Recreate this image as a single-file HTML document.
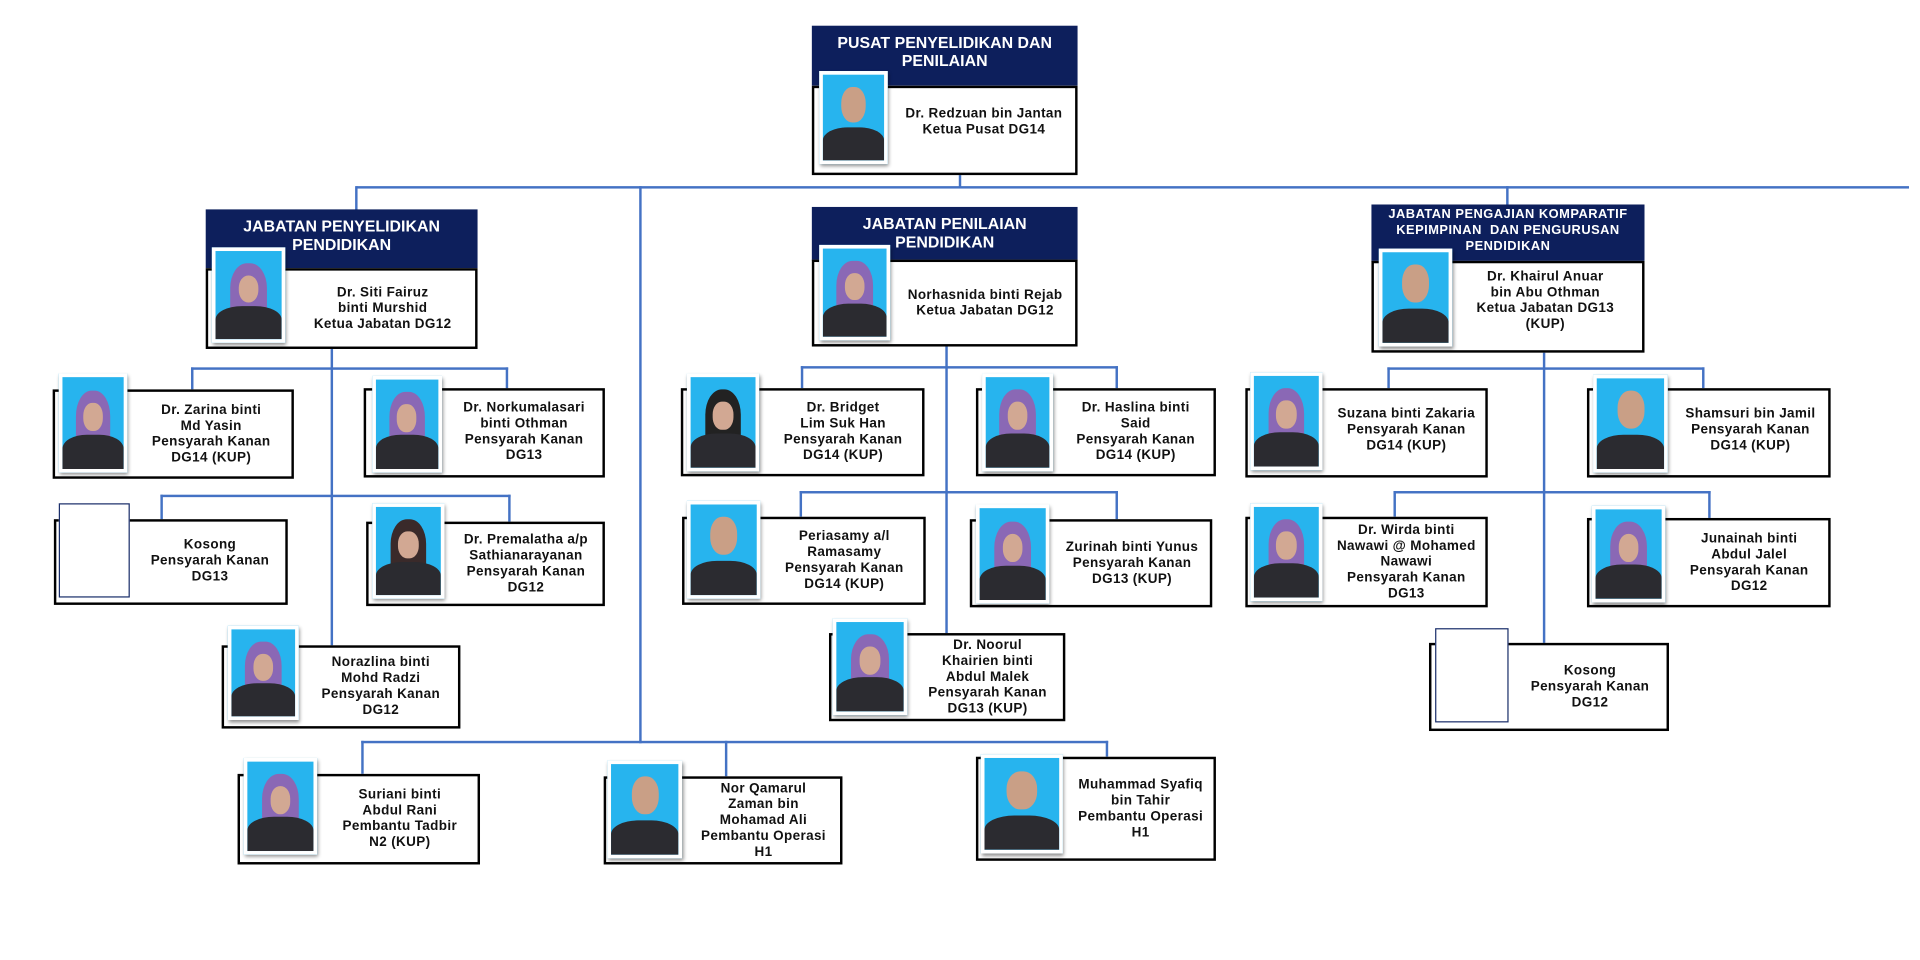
<!DOCTYPE html>
<html><head><meta charset="utf-8"><style>
html,body{margin:0;padding:0;background:#fff;width:1920px;height:960px;overflow:hidden}
#w{position:absolute;left:0;top:0;width:1568px;height:784px;transform:scale(1.2245);transform-origin:0 0;font-family:"Liberation Sans",Arial,sans-serif}
.l{position:absolute;background:#4472c4}
.h{position:absolute;background:#0d1f5c;color:#fff;font-weight:bold;text-align:center;font-size:13px;line-height:15px;box-sizing:border-box;padding-top:6px}
.b{position:absolute;border:2px solid #000;background:#fff;box-sizing:border-box}
.t{position:absolute;display:flex;align-items:center;justify-content:center;text-align:center;font-weight:bold;font-size:11px;line-height:13px;color:#111;letter-spacing:.3px}
.p{position:absolute;box-sizing:border-box;border:3px solid #fff;box-shadow:1px 2px 3px rgba(0,0,0,.45);background:#27b4ee;overflow:hidden}
.p i{position:absolute;left:30%;top:14%;width:40%;height:42%;border-radius:45%;background:#c99f86}
.p.hj i{left:22%;width:56%;height:62%;background:#8a68b5;border-radius:45% 45% 20% 20%}
.p.hj i::after{content:"";position:absolute;left:22%;top:22%;width:56%;height:50%;border-radius:45%;background:#d2a893}
.p b{position:absolute;left:0;right:0;bottom:0;height:38%;background:#2b2b30;border-radius:40% 40% 0 0}
.e{position:absolute;border:1px solid #1b2f6b;background:#fff;box-sizing:border-box}
</style></head><body><div id="w">
<!-- connectors -->
<div class="l" style="left:291px;top:152px;width:1268px;height:2px"></div>
<div class="l" style="left:783px;top:142px;width:2px;height:11px"></div>
<div class="l" style="left:290px;top:152px;width:2px;height:20px"></div>
<div class="l" style="left:1230px;top:152px;width:2px;height:16px"></div>
<div class="l" style="left:522px;top:152px;width:2px;height:455px"></div>
<div class="l" style="left:270px;top:285px;width:2px;height:244px"></div>
<div class="l" style="left:156px;top:300px;width:259px;height:2px"></div>
<div class="l" style="left:156px;top:300px;width:2px;height:18px"></div>
<div class="l" style="left:413px;top:300px;width:2px;height:18px"></div>
<div class="l" style="left:131px;top:404px;width:286px;height:2px"></div>
<div class="l" style="left:131px;top:404px;width:2px;height:21px"></div>
<div class="l" style="left:415px;top:404px;width:2px;height:22px"></div>
<div class="l" style="left:772px;top:282px;width:2px;height:236px"></div>
<div class="l" style="left:654px;top:299px;width:259px;height:2px"></div>
<div class="l" style="left:654px;top:299px;width:2px;height:18px"></div>
<div class="l" style="left:911px;top:299px;width:2px;height:18px"></div>
<div class="l" style="left:653px;top:401px;width:260px;height:2px"></div>
<div class="l" style="left:653px;top:401px;width:2px;height:21px"></div>
<div class="l" style="left:911px;top:401px;width:2px;height:23px"></div>
<div class="l" style="left:1260px;top:287px;width:2px;height:240px"></div>
<div class="l" style="left:1133px;top:300px;width:259px;height:2px"></div>
<div class="l" style="left:1133px;top:300px;width:2px;height:17px"></div>
<div class="l" style="left:1390px;top:300px;width:2px;height:17px"></div>
<div class="l" style="left:1138px;top:401px;width:259px;height:2px"></div>
<div class="l" style="left:1138px;top:401px;width:2px;height:21px"></div>
<div class="l" style="left:1395px;top:401px;width:2px;height:22px"></div>
<div class="l" style="left:295px;top:605px;width:610px;height:2px"></div>
<div class="l" style="left:295px;top:605px;width:2px;height:27px"></div>
<div class="l" style="left:592px;top:605px;width:2px;height:29px"></div>
<div class="l" style="left:903px;top:605px;width:2px;height:13px"></div>

<!-- top -->
<div class="h" style="left:663px;top:21px;width:217px;height:49px">PUSAT PENYELIDIKAN DAN<br>PENILAIAN</div>
<div class="b" style="left:663px;top:70px;width:217px;height:73px"></div>
<div class="t" style="left:727px;top:72px;width:153px;height:56px">Dr. Redzuan bin Jantan<br>Ketua Pusat DG14</div>
<div class="p" style="left:669px;top:58px;width:56px;height:76px"><i></i><b></b></div>

<!-- JPP -->
<div class="h" style="left:168px;top:171px;width:222px;height:48px">JABATAN PENYELIDIKAN<br>PENDIDIKAN</div>
<div class="b" style="left:168px;top:219px;width:222px;height:66px"></div>
<div class="t" style="left:235px;top:221px;width:155px;height:62px">Dr. Siti Fairuz<br>binti Murshid<br>Ketua Jabatan DG12</div>
<div class="p hj" style="left:173px;top:202px;width:60px;height:78px"><i></i><b></b></div>

<div class="b" style="left:43px;top:318px;width:197px;height:73px"></div>
<div class="t" style="left:105px;top:320px;width:135px;height:69px">Dr. Zarina binti<br>Md Yasin<br>Pensyarah Kanan<br>DG14 (KUP)</div>
<div class="p hj" style="left:48px;top:305px;width:56px;height:81px"><i></i><b></b></div>

<div class="b" style="left:297px;top:317px;width:197px;height:73px"></div>
<div class="t" style="left:362px;top:319px;width:132px;height:67px">Dr. Norkumalasari<br>binti Othman<br>Pensyarah Kanan<br>DG13</div>
<div class="p hj" style="left:304px;top:307px;width:57px;height:79px"><i></i><b></b></div>

<div class="b" style="left:44px;top:424px;width:191px;height:70px"></div>
<div class="t" style="left:108px;top:426px;width:127px;height:64px">Kosong<br>Pensyarah Kanan<br>DG13</div>
<div class="e" style="left:48px;top:411px;width:58px;height:77px"></div>

<div class="b" style="left:299px;top:426px;width:195px;height:69px"></div>
<div class="t" style="left:365px;top:428px;width:129px;height:65px">Dr. Premalatha a/p<br>Sathianarayanan<br>Pensyarah Kanan<br>DG12</div>
<div class="p hj" style="left:304px;top:411px;width:59px;height:78px"><i style="background:#3a2a2a"></i><b></b></div>

<div class="b" style="left:181px;top:527px;width:195px;height:68px"></div>
<div class="t" style="left:246px;top:529px;width:130px;height:64px">Norazlina binti<br>Mohd Radzi<br>Pensyarah Kanan<br>DG12</div>
<div class="p hj" style="left:186px;top:511px;width:58px;height:77px"><i></i><b></b></div>

<!-- JPN -->
<div class="h" style="left:663px;top:169px;width:217px;height:44px">JABATAN PENILAIAN<br>PENDIDIKAN</div>
<div class="b" style="left:663px;top:212px;width:217px;height:71px"></div>
<div class="t" style="left:729px;top:214px;width:151px;height:67px">Norhasnida binti Rejab<br>Ketua Jabatan DG12</div>
<div class="p hj" style="left:669px;top:200px;width:58px;height:78px"><i></i><b></b></div>

<div class="b" style="left:556px;top:317px;width:199px;height:72px"></div>
<div class="t" style="left:622px;top:319px;width:133px;height:68px">Dr. Bridget<br>Lim Suk Han<br>Pensyarah Kanan<br>DG14 (KUP)</div>
<div class="p hj" style="left:561px;top:305px;width:59px;height:80px"><i style="background:#222"></i><b></b></div>

<div class="b" style="left:797px;top:317px;width:196px;height:72px"></div>
<div class="t" style="left:862px;top:319px;width:131px;height:68px">Dr. Haslina binti<br>Said<br>Pensyarah Kanan<br>DG14 (KUP)</div>
<div class="p hj" style="left:802px;top:305px;width:58px;height:80px"><i></i><b></b></div>

<div class="b" style="left:557px;top:422px;width:199px;height:72px"></div>
<div class="t" style="left:623px;top:424px;width:133px;height:68px">Periasamy a/l<br>Ramasamy<br>Pensyarah Kanan<br>DG14 (KUP)</div>
<div class="p" style="left:561px;top:409px;width:60px;height:80px"><i></i><b></b></div>

<div class="b" style="left:792px;top:424px;width:198px;height:72px"></div>
<div class="t" style="left:859px;top:426px;width:131px;height:68px">Zurinah binti Yunus<br>Pensyarah Kanan<br>DG13 (KUP)</div>
<div class="p hj" style="left:797px;top:412px;width:60px;height:81px"><i></i><b></b></div>

<div class="b" style="left:677px;top:517px;width:193px;height:72px"></div>
<div class="t" style="left:743px;top:519px;width:127px;height:68px">Dr. Noorul<br>Khairien binti<br>Abdul Malek<br>Pensyarah Kanan<br>DG13 (KUP)</div>
<div class="p hj" style="left:680px;top:505px;width:61px;height:79px"><i></i><b></b></div>

<!-- JPKPP -->
<div class="h" style="left:1120px;top:167px;width:223px;height:47px;font-size:10.5px;line-height:13px;padding-top:2px;letter-spacing:.4px">JABATAN PENGAJIAN KOMPARATIF<br>KEPIMPINAN&nbsp; DAN PENGURUSAN<br>PENDIDIKAN</div>
<div class="b" style="left:1120px;top:213px;width:223px;height:75px"></div>
<div class="t" style="left:1188px;top:215px;width:148px;height:62px">Dr. Khairul Anuar<br>bin Abu Othman<br>Ketua Jabatan DG13<br>(KUP)</div>
<div class="p" style="left:1126px;top:203px;width:60px;height:80px"><i></i><b></b></div>

<div class="b" style="left:1017px;top:317px;width:198px;height:73px"></div>
<div class="t" style="left:1082px;top:319px;width:133px;height:64px">Suzana binti Zakaria<br>Pensyarah Kanan<br>DG14 (KUP)</div>
<div class="p hj" style="left:1021px;top:304px;width:59px;height:80px"><i></i><b></b></div>

<div class="b" style="left:1296px;top:317px;width:199px;height:73px"></div>
<div class="t" style="left:1364px;top:319px;width:131px;height:65px">Shamsuri bin Jamil<br>Pensyarah Kanan<br>DG14 (KUP)</div>
<div class="p" style="left:1301px;top:306px;width:61px;height:80px"><i></i><b></b></div>

<div class="b" style="left:1017px;top:422px;width:198px;height:74px"></div>
<div class="t" style="left:1082px;top:424px;width:133px;height:70px">Dr. Wirda binti<br>Nawawi @ Mohamed<br>Nawawi<br>Pensyarah Kanan<br>DG13</div>
<div class="p hj" style="left:1021px;top:411px;width:59px;height:80px"><i></i><b></b></div>

<div class="b" style="left:1296px;top:423px;width:199px;height:73px"></div>
<div class="t" style="left:1362px;top:425px;width:133px;height:69px">Junainah binti<br>Abdul Jalel<br>Pensyarah Kanan<br>DG12</div>
<div class="p hj" style="left:1300px;top:413px;width:60px;height:79px"><i></i><b></b></div>

<div class="b" style="left:1167px;top:525px;width:196px;height:72px"></div>
<div class="t" style="left:1234px;top:527px;width:129px;height:68px">Kosong<br>Pensyarah Kanan<br>DG12</div>
<div class="e" style="left:1172px;top:513px;width:60px;height:77px"></div>

<!-- bottom -->
<div class="b" style="left:194px;top:632px;width:198px;height:74px"></div>
<div class="t" style="left:261px;top:634px;width:131px;height:70px">Suriani binti<br>Abdul Rani<br>Pembantu Tadbir<br>N2 (KUP)</div>
<div class="p hj" style="left:199px;top:619px;width:60px;height:79px"><i></i><b></b></div>

<div class="b" style="left:493px;top:634px;width:195px;height:72px"></div>
<div class="t" style="left:559px;top:636px;width:129px;height:68px">Nor Qamarul<br>Zaman bin<br>Mohamad Ali<br>Pembantu Operasi<br>H1</div>
<div class="p" style="left:496px;top:621px;width:61px;height:80px"><i></i><b></b></div>

<div class="b" style="left:797px;top:618px;width:196px;height:85px"></div>
<div class="t" style="left:870px;top:620px;width:123px;height:81px">Muhammad Syafiq<br>bin Tahir<br>Pembantu Operasi<br>H1</div>
<div class="p" style="left:801px;top:616px;width:67px;height:81px"><i></i><b></b></div>
</div></body></html>
